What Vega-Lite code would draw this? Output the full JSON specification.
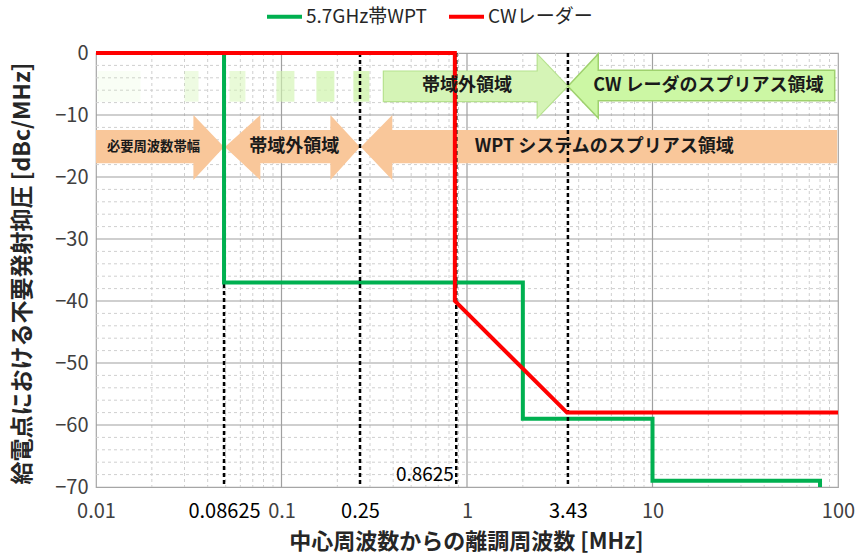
{
  "$schema": "https://vega.github.io/schema/vega-lite/v6.json",
  "autosize": "none",
  "width": 742,
  "height": 434,
  "padding": {"left": 96, "top": 53, "right": 21, "bottom": 70},
  "background": "white",
  "config": {
    "font": "Noto Sans CJK JP",
    "view": {"stroke": "#a6a6a6", "strokeWidth": 1.2}
  },
  "datasets": {
    "series": [
      {"s": "5.7GHz帯WPT", "i": 0, "x": 0.01, "y": 0},
      {"s": "5.7GHz帯WPT", "i": 1, "x": 0.049, "y": 0},
      {"s": "5.7GHz帯WPT", "i": 2, "x": 0.049, "y": -37},
      {"s": "5.7GHz帯WPT", "i": 3, "x": 2.0, "y": -37},
      {"s": "5.7GHz帯WPT", "i": 4, "x": 2.0, "y": -59},
      {"s": "5.7GHz帯WPT", "i": 5, "x": 10, "y": -59},
      {"s": "5.7GHz帯WPT", "i": 6, "x": 10, "y": -69},
      {"s": "5.7GHz帯WPT", "i": 7, "x": 80, "y": -69},
      {"s": "5.7GHz帯WPT", "i": 8, "x": 80, "y": -70},
      {"s": "CWレーダー", "i": 0, "x": 0.01, "y": 0},
      {"s": "CWレーダー", "i": 1, "x": 0.86, "y": 0},
      {"s": "CWレーダー", "i": 2, "x": 0.86, "y": -40},
      {"s": "CWレーダー", "i": 3, "x": 3.46, "y": -58},
      {"s": "CWレーダー", "i": 4, "x": 100, "y": -58}
    ],
    "minorx": [
      {"x": 0.02}, {"x": 0.03}, {"x": 0.04}, {"x": 0.05}, {"x": 0.06}, {"x": 0.07}, {"x": 0.08}, {"x": 0.09},
      {"x": 0.2}, {"x": 0.3}, {"x": 0.4}, {"x": 0.5}, {"x": 0.6}, {"x": 0.7}, {"x": 0.8}, {"x": 0.9},
      {"x": 2}, {"x": 3}, {"x": 4}, {"x": 5}, {"x": 6}, {"x": 7}, {"x": 8}, {"x": 9},
      {"x": 20}, {"x": 30}, {"x": 40}, {"x": 50}, {"x": 60}, {"x": 70}, {"x": 80}, {"x": 90}
    ],
    "majorx": [{"x": 0.1}, {"x": 1}, {"x": 10}],
    "minory": [
      {"y": -2}, {"y": -4}, {"y": -6}, {"y": -8}, {"y": -12}, {"y": -14}, {"y": -16}, {"y": -18},
      {"y": -22}, {"y": -24}, {"y": -26}, {"y": -28}, {"y": -32}, {"y": -34}, {"y": -36}, {"y": -38},
      {"y": -42}, {"y": -44}, {"y": -46}, {"y": -48}, {"y": -52}, {"y": -54}, {"y": -56}, {"y": -58},
      {"y": -62}, {"y": -64}, {"y": -66}, {"y": -68}
    ],
    "majory": [{"y": -10}, {"y": -20}, {"y": -30}, {"y": -40}, {"y": -50}, {"y": -60}],
    "arrows": [
      {"a": "o1", "x": 0.01, "y": -12.4, "y2": -17.8},
      {"a": "o1", "x": 0.0335, "y": -12.4, "y2": -17.8},
      {"a": "o1", "x": 0.03351, "y": -10, "y2": -20.5},
      {"a": "o1", "x": 0.049, "y": -15.15, "y2": -15.15},
      {"a": "o2", "x": 0.0495, "y": -15.15, "y2": -15.15},
      {"a": "o2", "x": 0.0769, "y": -10, "y2": -20.5},
      {"a": "o2", "x": 0.07691, "y": -12.4, "y2": -17.8},
      {"a": "o2", "x": 0.1834, "y": -12.4, "y2": -17.8},
      {"a": "o2", "x": 0.18341, "y": -10, "y2": -20.5},
      {"a": "o2", "x": 0.265, "y": -15.15, "y2": -15.15},
      {"a": "o3", "x": 0.268, "y": -15.15, "y2": -15.15},
      {"a": "o3", "x": 0.3956, "y": -10, "y2": -20.5},
      {"a": "o3", "x": 0.39561, "y": -12.4, "y2": -17.8},
      {"a": "o3", "x": 99, "y": -12.4, "y2": -17.8},
      {"a": "g1", "x": 0.354, "y": -2.9, "y2": -7.85},
      {"a": "g1", "x": 2.39, "y": -2.9, "y2": -7.85},
      {"a": "g1", "x": 2.3901, "y": -0.15, "y2": -10.5},
      {"a": "g1", "x": 3.5, "y": -5.35, "y2": -5.35},
      {"a": "g2", "x": 3.5, "y": -5.35, "y2": -5.35},
      {"a": "g2", "x": 5.1, "y": -0.15, "y2": -10.5},
      {"a": "g2", "x": 5.1001, "y": -2.8, "y2": -7.7},
      {"a": "g2", "x": 96, "y": -2.8, "y2": -7.7}
    ],
    "pieces": [
      {"x": 0.0102, "x2": 0.01737},
      {"x": 0.030, "x2": 0.0357},
      {"x": 0.0524, "x2": 0.0639},
      {"x": 0.0939, "x2": 0.1174},
      {"x": 0.1542, "x2": 0.1928},
      {"x": 0.244, "x2": 0.2976}
    ],
    "cuts": [{"x": 0.049}, {"x": 0.265}, {"x": 0.875}, {"x": 3.5}],
    "notes": [
      {"t": "帯域外領域", "x": 0.117, "y": -15.2},
      {"t": "WPT システムのスプリアス領域", "x": 5.5, "y": -15.1},
      {"t": "帯域外領域", "x": 1.0, "y": -5.4},
      {"t": "CW レーダのスプリアス領域", "x": 20, "y": -5.4}
    ],
    "small": [{"t": "必要周波数帯幅", "x": 0.0204, "y": -15.2}],
    "inner": [{"t": "0.8625", "x": 0.85, "y": -68}]
  },
  "layer": [
    {
      "data": {"name": "minorx"},
      "mark": {"type": "rule", "color": "#cfcfcf", "strokeDash": [3, 3], "strokeWidth": 1},
      "encoding": {
        "x": {"field": "x", "type": "quantitative",
          "scale": {"type": "log", "domain": [0.01, 100], "nice": false},
          "axis": {
            "values": [0.01, 0.049, 0.1, 0.265, 1, 3.5, 10, 100],
            "labelExpr": "datum.value == 0.049 ? '0.08625' : datum.value == 0.265 ? '0.25' : datum.value == 3.5 ? '3.43' : datum.value == 0.01 ? '0.01' : datum.value == 0.1 ? '0.1' : datum.value == 1 ? '1' : datum.value == 10 ? '10' : '100'",
            "grid": false, "ticks": false, "domain": false,
            "labelFontSize": 20, "labelPadding": 14,
            "labelColor": {"condition": {"test": "datum.value == 0.049 || datum.value == 0.265 || datum.value == 3.5", "value": "#000000"}, "value": "#404040"},
            "labelOverlap": false, "labelFlush": false, "labelBound": false,
            "title": "中心周波数からの離調周波数 [MHz]",
            "titleFontSize": 22, "titleFontWeight": "bold", "titleColor": "#262626",
            "titleX": 370, "titleY": 54, "titleBaseline": "middle", "titleAlign": "center"
          }},
        "y": {"datum": 0, "type": "quantitative", "scale": {"domain": [-70, 0], "nice": false},
          "axis": {
            "values": [0, -10, -20, -30, -40, -50, -60, -70],
            "grid": false, "ticks": false, "domain": false,
            "labelFontSize": 20, "labelPadding": 8, "labelColor": "#404040",
            "title": "給電点における不要発射抑圧 [dBc/MHz]",
            "titleFontSize": 23, "titleFontWeight": "bold", "titleColor": "#262626",
            "titleX": -74, "titleY": 220, "titleBaseline": "middle", "titleAlign": "center"
          }},
        "y2": {"datum": -70}
      }
    },
    {
      "data": {"name": "minory"},
      "mark": {"type": "rule", "color": "#cfcfcf", "strokeDash": [3, 3], "strokeWidth": 1},
      "encoding": {
        "y": {"field": "y", "type": "quantitative"},
        "x": {"datum": 0.01, "type": "quantitative"},
        "x2": {"datum": 100}
      }
    },
    {
      "data": {"name": "majorx"},
      "mark": {"type": "rule", "color": "#a0a0a0", "strokeWidth": 1.2},
      "encoding": {
        "x": {"field": "x", "type": "quantitative"},
        "y": {"datum": 0, "type": "quantitative"},
        "y2": {"datum": -70}
      }
    },
    {
      "data": {"name": "majory"},
      "mark": {"type": "rule", "color": "#a0a0a0", "strokeWidth": 1.2},
      "encoding": {
        "y": {"field": "y", "type": "quantitative"},
        "x": {"datum": 0.01, "type": "quantitative"},
        "x2": {"datum": 100}
      }
    },
    {
      "data": {"name": "arrows"},
      "transform": [{"filter": "datum.a == 'o1' || datum.a == 'o2' || datum.a == 'o3'"}],
      "mark": {"type": "area", "color": "#f9c79a", "opacity": 1},
      "encoding": {
        "detail": {"field": "a"},
        "x": {"field": "x", "type": "quantitative"},
        "y": {"field": "y", "type": "quantitative", "stack": null},
        "y2": {"field": "y2"}
      }
    },
    {
      "data": {"name": "arrows"},
      "transform": [{"filter": "datum.a == 'g1'"}],
      "mark": {"type": "area", "color": "#d5f4b6", "stroke": "#b6e28e", "strokeWidth": 1.2, "opacity": 1},
      "encoding": {
        "x": {"field": "x", "type": "quantitative"},
        "y": {"field": "y", "type": "quantitative", "stack": null},
        "y2": {"field": "y2"}
      }
    },
    {
      "data": {"name": "arrows"},
      "transform": [{"filter": "datum.a == 'g2'"}],
      "mark": {"type": "area", "color": "#ccf7a4", "stroke": "#9fd16e", "strokeWidth": 1.5, "opacity": 1},
      "encoding": {
        "x": {"field": "x", "type": "quantitative"},
        "y": {"field": "y", "type": "quantitative", "stack": null},
        "y2": {"field": "y2"}
      }
    },
    {
      "data": {"name": "cuts"},
      "transform": [{"filter": "datum.x == 0.049"}],
      "mark": {"type": "rule", "color": "#000000", "strokeWidth": 2.5, "strokeDash": [4, 3]},
      "encoding": {
        "x": {"field": "x", "type": "quantitative"},
        "y": {"datum": 0, "type": "quantitative"},
        "y2": {"datum": -70}
      }
    },
    {
      "data": {"name": "series"},
      "transform": [{"filter": "datum.s == '5.7GHz帯WPT'"}],
      "mark": {"type": "line", "strokeWidth": 4, "strokeJoin": "miter", "strokeCap": "butt"},
      "encoding": {
        "x": {"field": "x", "type": "quantitative"},
        "y": {"field": "y", "type": "quantitative"},
        "order": {"field": "i"},
        "color": {"field": "s", "type": "nominal",
          "scale": {"domain": ["5.7GHz帯WPT", "CWレーダー"], "range": ["#00b050", "#ff0000"]},
          "legend": {
            "orient": "none", "legendX": 169, "legendY": -56, "direction": "horizontal",
            "title": null, "labelFontSize": 19, "labelColor": "#262626",
            "symbolType": "stroke", "symbolStrokeWidth": 4, "symbolSize": 1225,
            "labelOffset": 2, "columnPadding": 14
          }}
      }
    },
    {
      "mark": {"type": "rect", "color": "white", "opacity": 0.88},
      "encoding": {
        "x": {"datum": 0.0102, "type": "quantitative"},
        "x2": {"datum": 0.354},
        "y": {"datum": -2.9, "type": "quantitative"},
        "y2": {"datum": -7.85}
      }
    },
    {
      "data": {"name": "pieces"},
      "mark": {"type": "rect", "color": "#d2f4b0"},
      "encoding": {
        "x": {"field": "x", "type": "quantitative"},
        "x2": {"field": "x2"},
        "y": {"datum": -2.9, "type": "quantitative"},
        "y2": {"datum": -7.85},
        "opacity": {"field": "x", "type": "quantitative", "scale": {"type": "log", "domain": [0.01, 0.3], "range": [0.12, 0.9]}, "legend": null}
      }
    },
    {
      "data": {"name": "cuts"},
      "transform": [{"filter": "datum.x != 0.049"}],
      "mark": {"type": "rule", "color": "#000000", "strokeWidth": 2.5, "strokeDash": [4, 3]},
      "encoding": {
        "x": {"field": "x", "type": "quantitative"},
        "y": {"datum": 0, "type": "quantitative"},
        "y2": {"datum": -70}
      }
    },
    {
      "data": {"name": "series"},
      "transform": [{"filter": "datum.s == 'CWレーダー'"}],
      "mark": {"type": "line", "strokeWidth": 4, "strokeJoin": "miter", "strokeCap": "butt"},
      "encoding": {
        "x": {"field": "x", "type": "quantitative"},
        "y": {"field": "y", "type": "quantitative"},
        "order": {"field": "i"},
        "color": {"field": "s", "type": "nominal"}
      }
    },
    {
      "data": {"name": "notes"},
      "mark": {"type": "text", "fontSize": 18, "fontWeight": "bold", "color": "#1a1a1a", "baseline": "middle", "align": "center"},
      "encoding": {
        "x": {"field": "x", "type": "quantitative"},
        "y": {"field": "y", "type": "quantitative"},
        "text": {"field": "t"}
      }
    },
    {
      "data": {"name": "small"},
      "mark": {"type": "text", "fontSize": 13.3, "fontWeight": "bold", "color": "#1a1a1a", "baseline": "middle", "align": "center"},
      "encoding": {
        "x": {"field": "x", "type": "quantitative"},
        "y": {"field": "y", "type": "quantitative"},
        "text": {"field": "t"}
      }
    },
    {
      "data": {"name": "inner"},
      "mark": {"type": "text", "fontSize": 19, "color": "#000000", "baseline": "middle", "align": "right"},
      "encoding": {
        "x": {"field": "x", "type": "quantitative"},
        "y": {"field": "y", "type": "quantitative"},
        "text": {"field": "t"}
      }
    }
  ]
}
